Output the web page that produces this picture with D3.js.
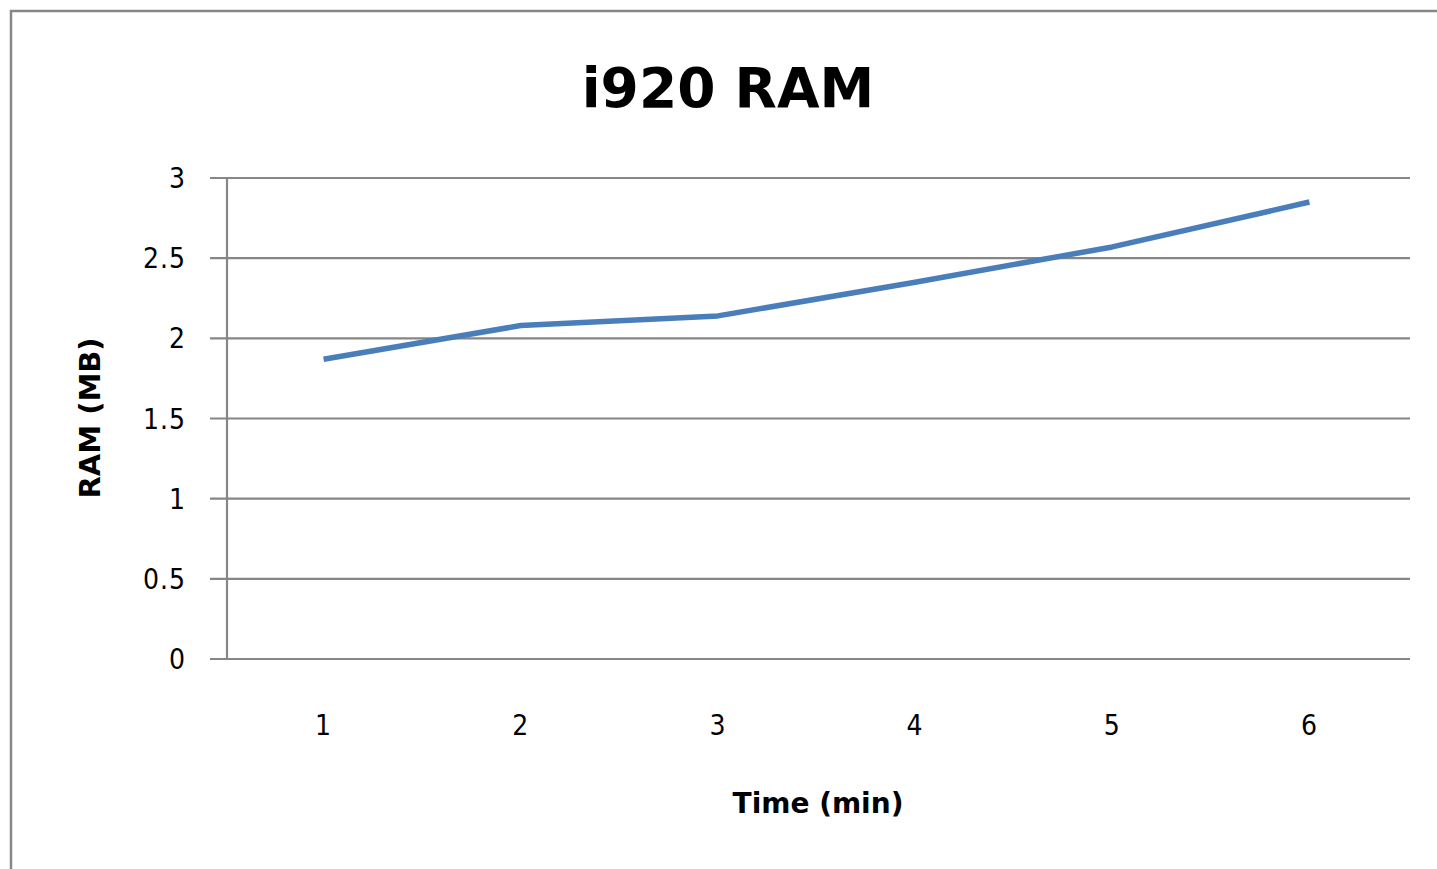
<!DOCTYPE html>
<head>
<meta charset="utf-8">
<title>i920 RAM</title>
<style>
body { margin: 0; background: #fff; }
text { font-family: "DejaVu Sans", Verdana, sans-serif; fill: #000; }
.tick-label { font-family: "DejaVu Sans Condensed", "DejaVu Sans", sans-serif; font-size: 28px; letter-spacing: 1px; }
.grid line { stroke: #868686; stroke-width: 2.2px; }
</style>
</head>
<body>
<script src="https://cdn.jsdelivr.net/npm/d3@7"></script>
<script>

var minutes = ["1", "2", "3", "4", "5", "6"];
var ramMB = [1.87, 2.08, 2.14, 2.35, 2.57, 2.85];
var yTicks = [0, 0.5, 1, 1.5, 2, 2.5, 3];

var width = 1437, height = 869;
var plotLeft = 227, plotRight = 1410, plotTop = 178, plotBottom = 659;

var svg = d3.select("body").append("svg")
    .attr("width", width)
    .attr("height", height);

// outer chart border (only top and left visible)
svg.append("path")
    .attr("d", "M11," + height + "V11H" + width)
    .attr("fill", "none")
    .attr("stroke", "#878787")
    .attr("stroke-width", 2.5);

var x = d3.scaleBand().domain(minutes).range([plotLeft, plotRight]);
var y = d3.scaleLinear().domain([0, 3]).range([plotBottom, plotTop]);

// horizontal gridlines + tick stubs
var grid = svg.append("g").attr("class", "grid");
grid.selectAll("line")
    .data(yTicks)
    .enter().append("line")
    .attr("x1", plotLeft - 17)
    .attr("x2", plotRight)
    .attr("y1", function(d) { return y(d); })
    .attr("y2", function(d) { return y(d); });

// y axis line
svg.append("line")
    .attr("x1", plotLeft).attr("x2", plotLeft)
    .attr("y1", plotTop).attr("y2", plotBottom)
    .attr("stroke", "#868686")
    .attr("stroke-width", 2.2);

// y tick labels
svg.selectAll(".ylab")
    .data(yTicks)
    .enter().append("text")
    .attr("class", "ylab tick-label")
    .attr("x", 186)
    .attr("y", function(d) { return y(d); })
    .attr("dy", "0.36em")
    .attr("text-anchor", "end")
    .text(function(d) { return d; });

// x tick labels
svg.selectAll(".xlab")
    .data(minutes)
    .enter().append("text")
    .attr("class", "xlab tick-label")
    .attr("x", function(d) { return x(d) + x.bandwidth() / 2 - 2; })
    .attr("y", 735)
    .attr("text-anchor", "middle")
    .text(function(d) { return d; });

// the series
var line = d3.line()
    .x(function(d, i) { return x(minutes[i]) + x.bandwidth() / 2 - 2; })
    .y(function(d) { return y(d); });

svg.append("path")
    .datum(ramMB)
    .attr("d", line)
    .attr("fill", "none")
    .attr("stroke", "#4a7ebb")
    .attr("stroke-width", 5.5)
    .attr("stroke-linejoin", "round");

// titles
svg.append("text")
    .attr("x", 728)
    .attr("y", 107)
    .attr("text-anchor", "middle")
    .style("font-size", "55px")
    .style("font-weight", "bold")
    .text("i920 RAM");

svg.append("text")
    .attr("x", 818)
    .attr("y", 813)
    .attr("text-anchor", "middle")
    .style("font-size", "28px")
    .style("font-weight", "bold")
    .text("Time (min)");

svg.append("text")
    .attr("transform", "translate(100,418) rotate(-90)")
    .attr("text-anchor", "middle")
    .style("font-size", "29px")
    .style("font-weight", "bold")
    .text("RAM (MB)");

</script>
</body>
</html>
